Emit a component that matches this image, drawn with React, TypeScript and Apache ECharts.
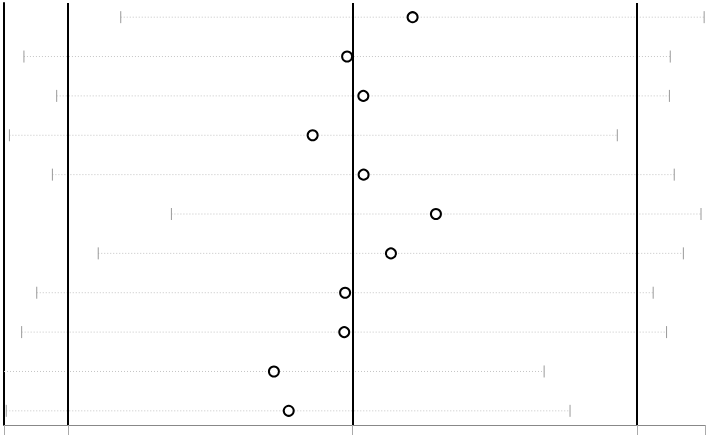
import * as echarts from 'echarts'
import { useEffect, useRef } from 'react'

// one row per estimate, top to bottom
const rows = [1, 2, 3, 4, 5, 6, 7, 8, 9, 10, 11]
const estimates = [0.211, -0.019, 0.038, -0.14, 0.039, 0.293, 0.135, -0.026, -0.029, -0.276, -0.224]
const lowers = [-0.814, -1.154, -1.039, -1.205, -1.054, -0.636, -0.893, -1.109, -1.162, -1.3, -1.216]
const uppers = [1.235, 1.116, 1.113, 0.93, 1.13, 1.224, 1.162, 1.056, 1.103, 0.673, 0.764]
const refLines = [-1, 0, 1]

const xMin = -1.224
const xMax = 1.238
const xTicks = [xMin, ...refLines, xMax]

export default function App() {
  const ref = useRef<HTMLDivElement | null>(null)

  useEffect(() => {
    if (!ref.current) {
      return
    }
    const chart = echarts.init(ref.current, undefined, { renderer: 'svg' })

    chart.setOption({
      animation: false,
      backgroundColor: '#fff',
      grid: { left: 4, right: 3, top: 3, bottom: 13, containLabel: false },
      xAxis: {
        type: 'value',
        min: xMin,
        max: xMax,
        axisLine: { show: true, lineStyle: { color: '#888', width: 1 } },
        axisTick: {
          show: true,
          length: 10,
          customValues: xTicks,
          lineStyle: { color: '#aaa', width: 1 },
        },
        axisLabel: { show: false },
        splitLine: { show: false },
      },
      yAxis: {
        type: 'value',
        inverse: true,
        min: 0.64,
        max: 11.36,
        axisLine: { show: true, onZero: false, lineStyle: { color: '#000', width: 2 } },
        axisTick: { show: false },
        axisLabel: { show: false },
        splitLine: { show: false },
      },
      series: [
        {
          type: 'custom',
          clip: true,
          data: rows.map((r, i) => [lowers[i], uppers[i], r]),
          encode: { x: [0, 1], y: 2 },
          renderItem: (params: any, api: any) => {
            const cs = params.coordSys
            const lo = api.coord([api.value(0), api.value(2)])
            const hi = api.coord([api.value(1), api.value(2)])
            const y = lo[1]
            const x0 = Math.max(lo[0], cs.x)
            const x1 = Math.min(hi[0], cs.x + cs.width)
            const children: any[] = [
              {
                type: 'line',
                shape: { x1: x0, y1: y, x2: x1, y2: y },
                style: { stroke: '#c4c4c4', lineWidth: 1, lineDash: [1, 2] },
              },
            ]
            const cap = (x: number) => ({
              type: 'line',
              shape: { x1: x, y1: y - 6, x2: x, y2: y + 6 },
              style: { stroke: '#9a9a9a', lineWidth: 1 },
            })
            if (lo[0] >= cs.x) children.push(cap(lo[0]))
            if (hi[0] <= cs.x + cs.width) children.push(cap(hi[0]))
            return { type: 'group', children }
          },
          z: 1,
        },
        {
          type: 'scatter',
          data: rows.map((r, i) => [estimates[i], r]),
          symbol: 'emptyCircle',
          symbolSize: 10,
          itemStyle: { color: '#000', borderColor: '#000', borderWidth: 2, opacity: 1 },
          z: 3,
          markLine: {
            silent: true,
            symbol: 'none',
            label: { show: false },
            lineStyle: { color: '#000', width: 2, type: 'solid' },
            data: refLines.map((v) => ({ xAxis: v })),
            z: 2,
          },
        },
      ],
    })

    return () => {
      chart.dispose()
    }
  }, [])

  return (
    <div
      ref={ref}
      style={{ position: 'fixed', left: 0, top: 0, width: 708, height: 438 }}
    />
  )
}
